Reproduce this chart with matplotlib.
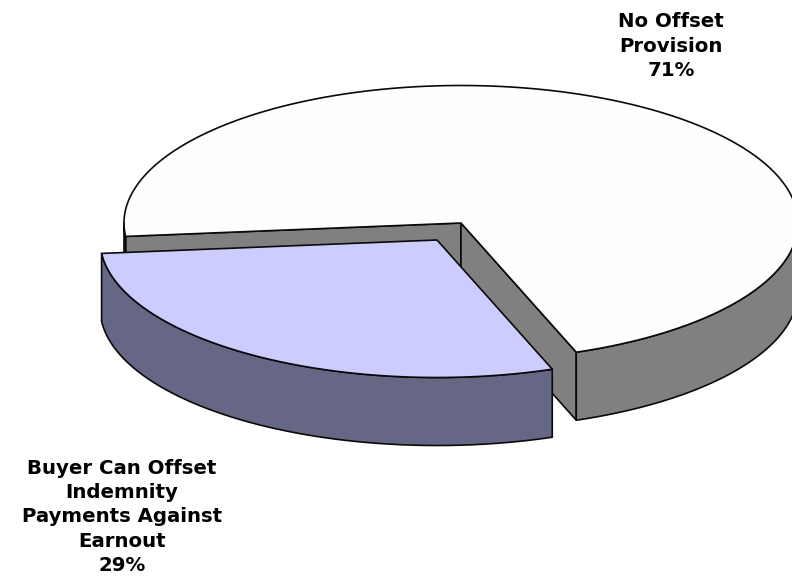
import numpy as np
import matplotlib
matplotlib.use("Agg")
import matplotlib.pyplot as plt
from matplotlib.patches import Polygon

labels = ["Buyer Can Offset\nIndemnity\nPayments Against\nEarnout\n29%", "No Offset\nProvision\n71%"]
values = [29, 71]

START = -70.0      # first edge of the buyer slice, degrees
RX, RY, DEPTH = 337.0, 137.5, 68.0
CENTERS = [(437.0, 240.0), (461.0, 223.0)]
TOPS = ["#CCCCFF", "#FEFEFE"]
SIDES = ["#666685", "#808080"]
EDGE = "#0a0a0a"
LW = 1.2

fig = plt.figure(figsize=(7.92, 5.77), dpi=100)
ax = fig.add_axes([0, 0, 1, 1])
ax.set_xlim(0, 792)
ax.set_ylim(577, 0)
ax.axis("off")

sweeps = [v / sum(values) * 360 for v in values]


def rim(c, a0, a1, dy=0.0):
    t = np.radians(np.linspace(a0, a1, 240))
    return np.column_stack([c[0] + RX * np.cos(t), c[1] - RY * np.sin(t) + dy])


def poly(pts, fc, z):
    ax.add_patch(Polygon(pts, closed=True, facecolor=fc, edgecolor=EDGE,
                         linewidth=LW, joinstyle="round", zorder=z))


def wall(c, a, fc, z):
    p = rim(c, a, a)[0]
    poly([c, p, (p[0], p[1] + DEPTH), (c[0], c[1] + DEPTH)], fc, z)


def outer(c, a0, a1, fc, z):
    top = rim(c, a0, a1)
    poly(np.vstack([top, top[::-1] + [0, DEPTH]]), fc, z)


# No-offset slice: runs counter-clockwise from the buyer slice's first edge
c = CENTERS[1]
a0 = START
a1 = START + sweeps[1]
wall(c, a1, SIDES[1], 1)
wall(c, a0, SIDES[1], 1)
outer(c, a0, 0, SIDES[1], 2)
outer(c, 180, a1, SIDES[1], 2)
poly(np.vstack([[c], rim(c, a0, a1)]), TOPS[1], 3)

# Buyer slice: pulled out, runs clockwise from the same angle
c = CENTERS[0]
a0 = START - sweeps[0]
a1 = START
outer(c, a0, a1, SIDES[0], 4)
poly(np.vstack([[c], rim(c, a0, a1)]), TOPS[0], 5)

fp = dict(family=["DejaVu Sans"], fontweight="bold", fontsize=14.2,
          color="black", ha="center", linespacing=1.35, zorder=6)
ax.text(122, 517, labels[0], va="center", **fp)
ax.text(671, 46, labels[1], va="center", **fp)

fig.savefig("out.png", dpi=100)
